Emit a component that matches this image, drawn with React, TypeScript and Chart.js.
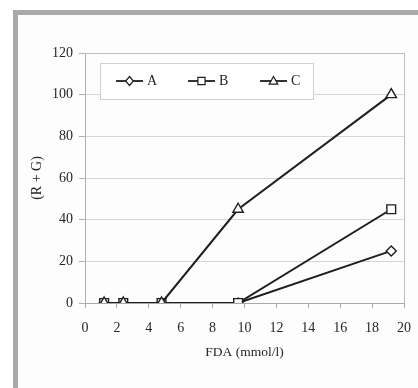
import React, { useEffect, useRef } from "react";
import { Chart, registerables } from "chart.js";

Chart.register(...registerables);

const xValues = [1.2, 2.4, 4.8, 9.6, 19.2];
const seriesA = [0, 0, 0, 0, 25];
const seriesB = [0, 0, 0, 0, 45];
const seriesC = [0, 0, 0, 45, 100];
const seriesLabels = ["A", "B", "C"];
const seriesStyles = ["rectRot", "rect", "triangle"];
const xTitle = "FDA (mmol/l)";
const yTitle = "(R + G)";

const FONT = "'Liberation Serif', 'Times New Roman', serif";
const TEXT = "#262626";
const LINE = "#1e1e1e";

function drawMarker(ctx: CanvasRenderingContext2D, style: string, x: number, y: number, r: number) {
  ctx.beginPath();
  if (style === "rectRot") {
    ctx.moveTo(x, y - r);
    ctx.lineTo(x + r * 0.85, y);
    ctx.lineTo(x, y + r);
    ctx.lineTo(x - r * 0.85, y);
    ctx.closePath();
  } else if (style === "rect") {
    ctx.rect(x - r * 0.8, y - r * 0.8, r * 1.6, r * 1.6);
  } else {
    ctx.moveTo(x, y - r);
    ctx.lineTo(x + r * 0.95, y + r * 0.7);
    ctx.lineTo(x - r * 0.95, y + r * 0.7);
    ctx.closePath();
  }
  ctx.fill();
  ctx.stroke();
}

const legendPlugin = {
  id: "boxLegend",
  afterDatasetsDraw(chart: any) {
    const ctx = chart.ctx as CanvasRenderingContext2D;
    const area = chart.chartArea;
    ctx.save();
    // plot border (top and right)
    ctx.strokeStyle = "#bdbdbd";
    ctx.lineWidth = 1;
    ctx.beginPath();
    ctx.moveTo(area.left, area.top + 0.5);
    ctx.lineTo(area.right + 0.5, area.top + 0.5);
    ctx.lineTo(area.right + 0.5, area.bottom);
    ctx.stroke();

    // legend box
    const bx = 100, by = 63, bw = 213, bh = 36;
    ctx.fillStyle = "#ffffff";
    ctx.strokeStyle = "#d0d0d0";
    ctx.fillRect(bx, by, bw, bh);
    ctx.strokeRect(bx + 0.5, by + 0.5, bw, bh);

    const cy = by + bh / 2;
    ctx.font = `14px ${FONT}`;
    ctx.textBaseline = "middle";
    seriesLabels.forEach((label, i) => {
      const sx = 116 + i * 72;
      ctx.strokeStyle = LINE;
      ctx.lineWidth = 1.8;
      ctx.beginPath();
      ctx.moveTo(sx, cy);
      ctx.lineTo(sx + 27, cy);
      ctx.stroke();
      ctx.fillStyle = "#ffffff";
      ctx.lineWidth = 1.2;
      drawMarker(ctx, seriesStyles[i], sx + 13.5, cy, 4.5);
      ctx.fillStyle = TEXT;
      ctx.fillText(label, sx + 31, cy + 0.5);
    });
    ctx.restore();
  },
};

export default function App() {
  const ref = useRef<HTMLCanvasElement | null>(null);

  useEffect(() => {
    if (!ref.current) return;
    const all = [seriesA, seriesB, seriesC];
    const radii = [5, 6.2, 6];
    const datasets = all.map((vals, i) => ({
      label: seriesLabels[i],
      data: xValues.map((x, j) => ({ x, y: vals[j] })),
      borderColor: LINE,
      borderWidth: 2,
      pointStyle: seriesStyles[i],
      pointRadius: radii[i],
      pointBorderWidth: 1.4,
      pointBorderColor: LINE,
      pointBackgroundColor: "#ffffff",
      showLine: true,
      tension: 0,
      order: 2 - i,
    }));

    const chart = new Chart(ref.current, {
      type: "scatter",
      data: { datasets },
      plugins: [legendPlugin],
      options: {
        responsive: false,
        animation: false,
        devicePixelRatio: 1,
        layout: { padding: { top: 53, right: 14, left: 0, bottom: 0 } },
        plugins: {
          legend: { display: false },
          tooltip: { enabled: false },
        },
        scales: {
          x: {
            type: "linear",
            min: 0,
            max: 20,
            afterFit: (s: any) => {
              s.height = 85;
              s.paddingLeft = 0;
              s.paddingRight = 0;
            },
            ticks: {
              stepSize: 2,
              color: TEXT,
              padding: 12,
              font: { family: FONT, size: 14 },
            },
            grid: {
              drawOnChartArea: false,
              drawTicks: true,
              tickLength: 5,
              color: "#a8a8a8",
            },
            border: { color: "#a8a8a8" },
            title: {
              display: true,
              text: xTitle,
              color: TEXT,
              font: { family: FONT, size: 13.5 },
              padding: { top: 0, bottom: 27 },
            },
          },
          y: {
            type: "linear",
            min: 0,
            max: 120,
            afterFit: (s: any) => {
              s.width = 85;
              s.paddingTop = 0;
              s.paddingBottom = 0;
            },
            ticks: {
              stepSize: 20,
              color: TEXT,
              padding: 6,
              font: { family: FONT, size: 14 },
            },
            grid: {
              color: "#d6d6d6",
              tickLength: 6,
              tickColor: "#b0b0b0",
            },
            border: { color: "#b0b0b0" },
            title: {
              display: true,
              text: yTitle,
              color: TEXT,
              font: { family: FONT, size: 14 },
              padding: { top: 29, bottom: 0 },
            },
          },
        },
      } as any,
    });
    return () => chart.destroy();
  }, []);

  return (
    <div style={{ position: "fixed", left: 0, top: 0, width: 418, height: 388, background: "#ffffff" }}>
      <div
        style={{
          position: "absolute",
          left: 13,
          top: 10,
          right: 0,
          bottom: 0,
          borderLeft: "5px solid #a9a9a9",
          borderTop: "5px solid #a9a9a9",
          background: "#fdfdfd",
        }}
      />
      <canvas ref={ref} width={418} height={388} style={{ position: "absolute", left: 0, top: 0 }} />
    </div>
  );
}
